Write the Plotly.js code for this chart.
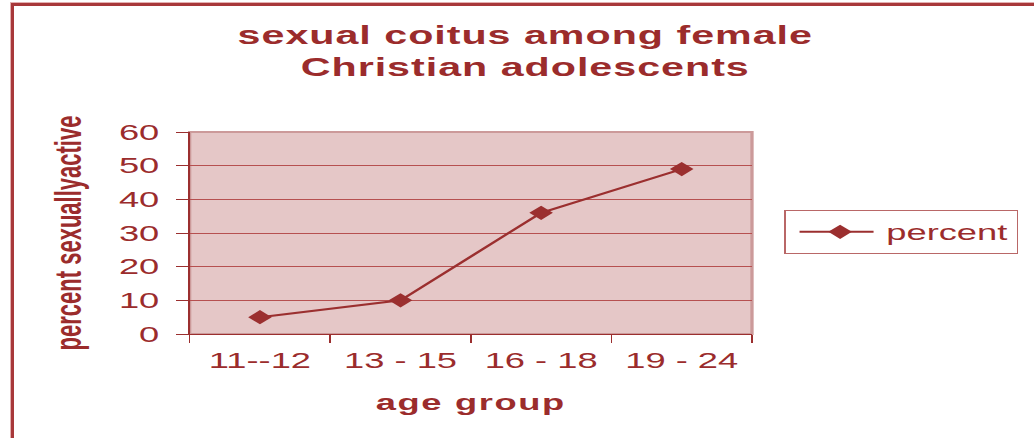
<!DOCTYPE html>
<html>
<head>
<meta charset="utf-8">
<script src="https://cdn.plot.ly/plotly-3.0.1.min.js"></script>
<style>
  html, body { margin: 0; padding: 0; background: #ffffff; }
  #wrap { position: relative; width: 1034px; height: 438px; overflow: hidden; background: #ffffff; }
  #chart { position: absolute; left: 0; top: 0; width: 627px; height: 438px;
           transform: scaleX(1.6491); transform-origin: 0 0; }
  #frame { position: absolute; left: 11px; top: 3px; width: 1200px; height: 600px;
           border-left: 3px solid #A8383A; border-top: 3px solid #A8383A;
           box-shadow: -1px -1px 0 #E3B0B0; pointer-events: none; }
  #chart .gtitle { letter-spacing: 0.6px; }
  #chart .xtitle { letter-spacing: 1px; }
  #chart .legendlines path { transform: translate(4px, 0px) scaleX(0.88); }
  #chart .legendpoints path { transform: translate(33px, 0px); }
</style>
</head>
<body>
<div id="wrap">
  <div id="chart"></div>
  <div id="frame"></div>
</div>
<script>
const ageGroups = ['11--12', '13 - 15', '16 - 18', '19 - 24'];
const percentActive = [5, 10, 36, 49];
const yTickValues = [0, 10, 20, 30, 40, 50, 60];
const seriesName = 'percent';
const chartTitle = 'sexual coitus among female<br>Christian adolescents';
const xTitle = 'age group';
const yTitle = 'percent sexuallyactive';

const textColor = '#9B2C2C';
const lineColor = '#9B2F2F';
const fontFamily = '"Liberation Sans", Arial, sans-serif';

const trace = {
  type: 'scatter',
  mode: 'lines+markers',
  x: ageGroups,
  y: percentActive,
  name: seriesName,
  line: { color: lineColor, width: 2 },
  marker: { symbol: 'diamond', size: 11, color: lineColor },
  showlegend: true
};

const layout = {
  width: 627,
  height: 438,
  margin: { l: 115, r: 171, t: 132, b: 104, pad: 0, autoexpand: false },
  paper_bgcolor: 'rgba(0,0,0,0)',
  plot_bgcolor: '#E5C7C7',
  font: { family: fontFamily, color: textColor, size: 22 },
  title: {
    text: chartTitle,
    x: 0.508,
    xref: 'container',
    xanchor: 'center',
    y: 0.9,
    yref: 'container',
    yanchor: 'top',
    font: { family: fontFamily, size: 25, color: textColor, weight: 'bold' }
  },
  xaxis: {
    type: 'category',
    range: [-0.5, 3.5],
    tickson: 'boundaries',
    ticks: 'outside',
    ticklen: 8,
    tickcolor: lineColor,
    tickwidth: 1,
    showline: true,
    linecolor: lineColor,
    linewidth: 1,
    showgrid: false,
    zeroline: false,
    tickfont: { size: 22, color: textColor },
    ticklabelstandoff: 7,
    title: { text: xTitle, standoff: 22, font: { size: 22, color: textColor, weight: 'bold' } }
  },
  yaxis: {
    range: [0, 60],
    tickvals: yTickValues,
    ticks: 'outside',
    ticklen: 7,
    tickcolor: lineColor,
    tickwidth: 1,
    showline: true,
    linecolor: lineColor,
    linewidth: 1,
    showgrid: true,
    gridcolor: '#B65050',
    gridwidth: 1,
    zeroline: false,
    tickfont: { size: 22, color: textColor },
    ticklabelstandoff: 6,
    title: { text: yTitle, standoff: 16, font: { size: 22, color: textColor, weight: 'bold' } }
  },
  shapes: [{
    type: 'rect', xref: 'paper', yref: 'paper', x0: 0, x1: 1, y0: 0, y1: 1,
    line: { color: '#CC9A9A', width: 2 }, layer: 'below'
  }],
  legend: {
    x: 1.057,
    xanchor: 'left',
    y: 0.505,
    yanchor: 'middle',
    bgcolor: '#ffffff',
    bordercolor: '#B96767',
    borderwidth: 1,
    itemwidth: 51,
    font: { size: 22, color: textColor }
  },
  showlegend: true
};

Plotly.newPlot('chart', [trace], layout, { displayModeBar: false, staticPlot: true });
</script>
</body>
</html>
